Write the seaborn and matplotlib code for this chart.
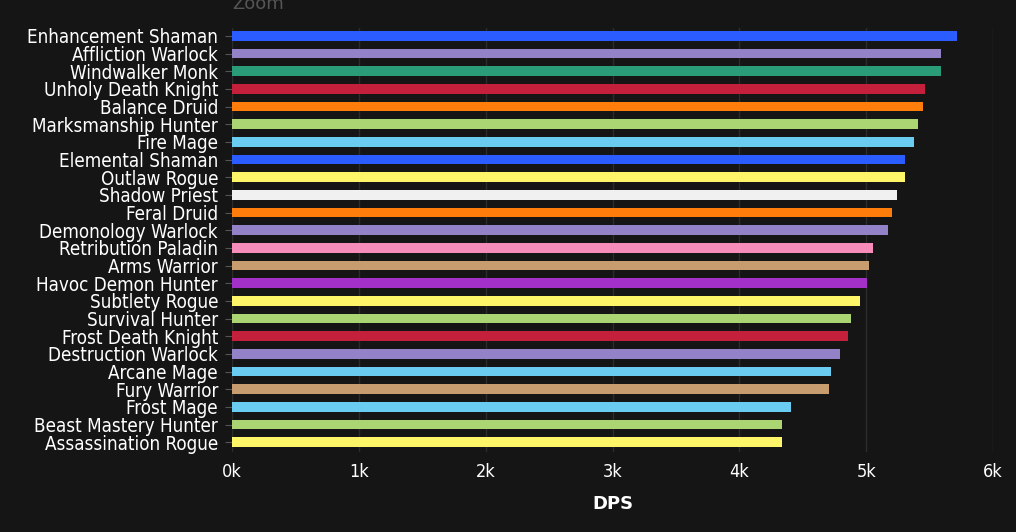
import matplotlib
matplotlib.use("Agg")
import matplotlib.pyplot as plt
import matplotlib.ticker as mticker
import seaborn as sns
import pandas as pd

SPECS = [
    "Enhancement Shaman", "Affliction Warlock", "Windwalker Monk", "Unholy Death Knight",
    "Balance Druid", "Marksmanship Hunter", "Fire Mage", "Elemental Shaman",
    "Outlaw Rogue", "Shadow Priest", "Feral Druid", "Demonology Warlock",
    "Retribution Paladin", "Arms Warrior", "Havoc Demon Hunter", "Subtlety Rogue",
    "Survival Hunter", "Frost Death Knight", "Destruction Warlock", "Arcane Mage",
    "Fury Warrior", "Frost Mage", "Beast Mastery Hunter", "Assassination Rogue",
]
DPS = [5720, 5590, 5590, 5460, 5450, 5410, 5380, 5310, 5310, 5240, 5200, 5170,
       5050, 5020, 5010, 4950, 4880, 4860, 4790, 4720, 4710, 4410, 4340, 4340]
COLORS = ["#2b5cff", "#9482c9", "#2a9d78", "#c41f3b", "#ff7d0a", "#abd473",
          "#69ccf0", "#2b5cff", "#fff569", "#f0f0f0", "#ff7d0a", "#9482c9",
          "#f58cba", "#c79c6e", "#a330c9", "#fff569", "#abd473", "#c41f3b",
          "#9482c9", "#69ccf0", "#c79c6e", "#69ccf0", "#abd473", "#fff569"]

BG = "#151515"
df = pd.DataFrame({"spec": SPECS, "dps": DPS})

fig = plt.figure(figsize=(10.16, 5.32), dpi=100, facecolor=BG)
ax = fig.add_axes([232 / 1016, 1 - 452 / 532, (993 - 232) / 1016, (452 - 28) / 532])
ax.set_facecolor(BG)
sns.barplot(data=df, y="spec", x="dps", hue="spec", palette=COLORS, legend=False,
            width=0.55, saturation=1, ax=ax)
ax.set_xlim(0, 6000)
ax.set_ylim(len(SPECS) - 0.45, -0.45)
ax.xaxis.set_major_locator(mticker.MultipleLocator(1000))
ax.xaxis.set_major_formatter(mticker.FuncFormatter(lambda v, p: f"{int(v/1000)}k"))
ax.grid(axis="x", color="#2c2c2c", lw=1)
ax.set_axisbelow(True)
for s in ax.spines.values():
    s.set_visible(False)
ax.tick_params(axis="y", colors="white", labelsize=13.5, length=5, color="#555555", pad=5)
ax.tick_params(axis="x", colors="white", labelsize=13, length=0, pad=8)
for t in ax.get_xticklabels() + ax.get_yticklabels():
    t.set_fontfamily("DejaVu Sans")
    t.set_fontstretch("condensed")
ax.set_ylabel("")
ax.set_xlabel("DPS", color="white", fontsize=13, fontweight="bold",
              fontfamily="DejaVu Sans", labelpad=10)
fig.text(232 / 1016, 1 - 4 / 532, "Zoom", color="#555555", fontsize=13,
         fontfamily="DejaVu Sans", va="center")
fig.savefig("out.png", facecolor=BG)
